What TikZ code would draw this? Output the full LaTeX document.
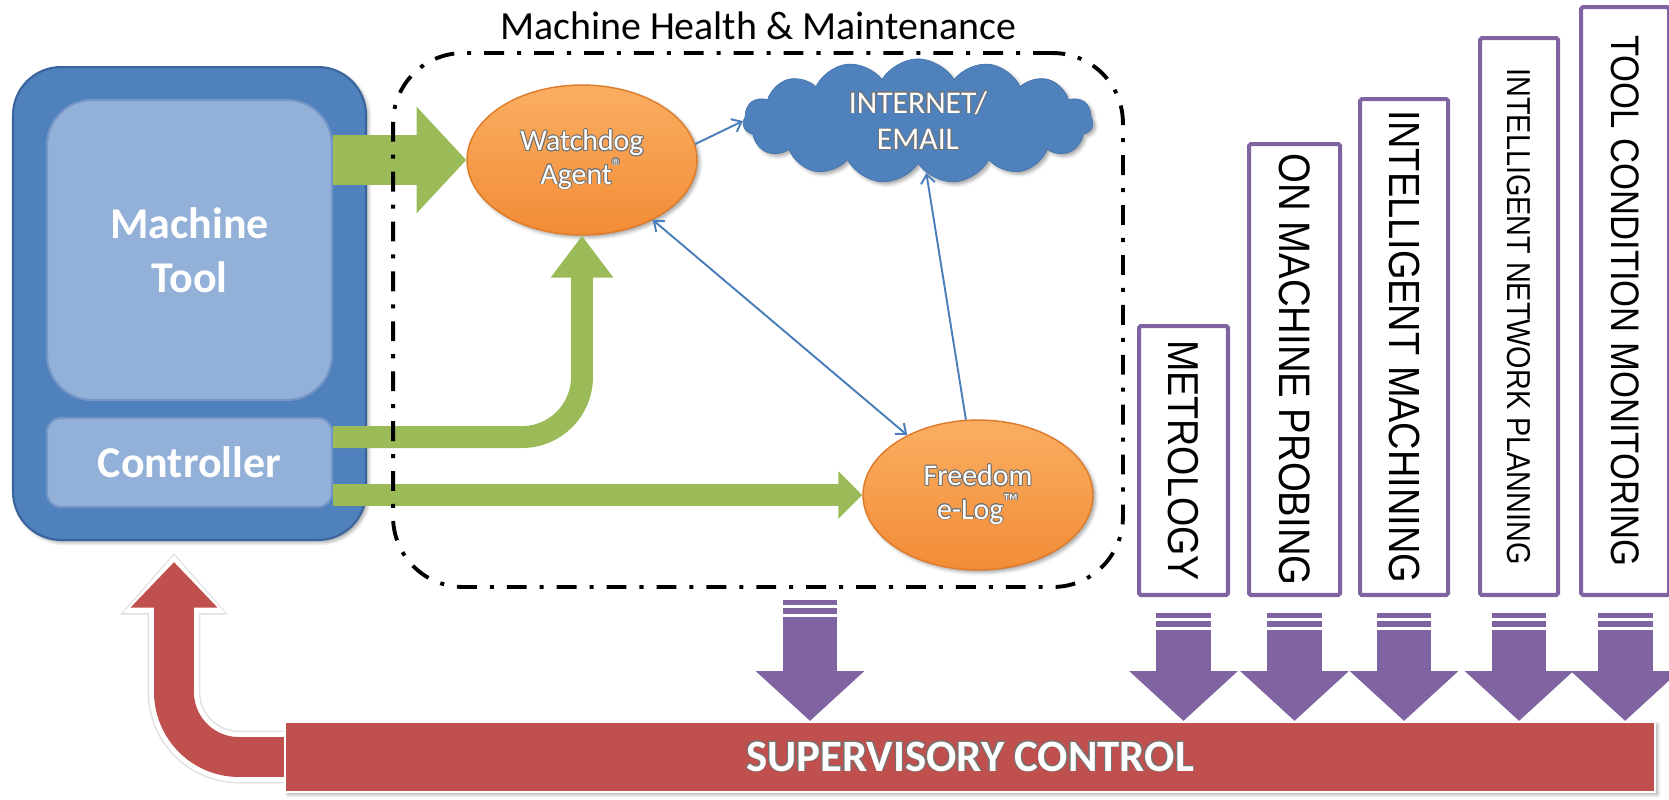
\documentclass[tikz,border=0pt]{standalone}
\usepackage{fontspec}
\usepackage{graphicx}
\usepackage{contour}
\setmainfont{Carlito}
\newfontfamily\modulefont{Liberation Sans}
\usetikzlibrary{arrows.meta,positioning,shapes.geometric,shapes.symbols,shadows.blur,backgrounds}
\definecolor{toolblue}{HTML}{4F81BD}
\definecolor{tooledge}{HTML}{3A659C}
\definecolor{panelblue}{HTML}{93B1D8}
\definecolor{paneledge}{HTML}{7596C6}
\definecolor{agentorange}{HTML}{F28C36}
\definecolor{agentlight}{HTML}{FAAE62}
\definecolor{agentedge}{HTML}{DE7A28}
\definecolor{feedgreen}{HTML}{9BBB59}
\definecolor{modpurple}{HTML}{8064A2}
\definecolor{ctrlred}{HTML}{C0504D}
\definecolor{linkblue}{HTML}{4A7EBB}
\contourlength{0.5pt}
\newcommand{\glow}[1]{\contour{black!55}{#1}}
\newcommand{\modlabel}[1]{\rotatebox{-90}{\scalebox{1}[1.15]{#1}}}
\tikzset{
  softshadow/.style={blur shadow={shadow xshift=1.5pt,shadow yshift=-1.5pt,shadow opacity=35}},
  machinebox/.style={draw=tooledge,line width=1.2pt,fill=toolblue,rounded corners=0.96cm,softshadow},
  panel/.style={draw=paneledge,line width=1.2pt,fill=panelblue,text=white,align=center,font=\fontsize{25}{31}\selectfont\bfseries},
  agent/.style={ellipse,draw=agentedge,line width=0.8pt,top color=agentlight,bottom color=agentorange,text=white,align=center,minimum width=4.6cm,minimum height=3cm,font=\fontsize{17}{19}\selectfont,softshadow},
  netcloud/.style={cloud,cloud puffs=15,cloud puff arc=120,cloud ignores aspect,fill=toolblue,draw=tooledge!50!toolblue,text=white,align=center,font=\fontsize{18}{21}\selectfont,softshadow},
  healthbox/.style={draw=black,line width=2.2pt,rounded corners=1.4cm,dash pattern=on 11.3pt off 7.4pt on 2.3pt off 7.4pt},
  module/.style={draw=modpurple,line width=2.3pt,fill=white,rounded corners=1pt,inner sep=0pt,anchor=south,font=\modulefont\fontsize{#1}{#1}\selectfont},
  ctrlbar/.style={draw=white,line width=1.2pt,fill=ctrlred,text=white,font=\fontsize{25.5}{30}\selectfont\bfseries,softshadow},
  greenflow/.style={draw=feedgreen},
  linkflow/.style={draw=linkblue,line width=1.1pt,>={Straight Barb[length=5pt,width=8pt]},->},
  purpleflow/.style={draw=modpurple,line width=31.2pt,-{Triangle[length=28.3pt,width=60pt]},dash pattern=on 2.8pt off 1.7pt on 3.4pt off 1.7pt on 400pt},
  redflow/.style={draw=ctrlred,line width=22.7pt,rounded corners=1.3cm,-{Triangle[length=26pt,width=48pt]}},
  redrim/.style={draw=white,line width=28.3pt,rounded corners=1.3cm,-{Triangle[length=33pt,width=56pt]}},
  redhalo/.style={draw=black!12,line width=30pt,rounded corners=1.3cm,-{Triangle[length=35pt,width=59pt]}}
}
\begin{document}
\begin{tikzpicture}[x=0.02cm,y=-0.02cm]
  \useasboundingbox (0,0) rectangle (1669,799);
  % machine with its controller
  \node[machinebox,minimum width=7.06cm,minimum height=9.46cm] (machine) at (189.5,303.5) {};
  \node[panel,rounded corners=0.9cm,minimum width=5.7cm,minimum height=6cm] (machtool) at (189.5,250) {Machine\\Tool};
  \node[panel,rounded corners=0.28cm,minimum width=5.7cm,minimum height=1.78cm] (controller) at (189.5,462.5) {Controller};
  % health and maintenance agents
  \node[agent] (watchdog) at (582,160) {\glow{Watchdog}\\\glow{Agent\textsuperscript{\textregistered}}};
  \node[agent] (freedom) at (978,495) {\glow{Freedom}\\\glow{e-Log\textsuperscript{\texttrademark}}};
  \node[netcloud,minimum width=7cm,minimum height=1.96cm] (internet) at (918,121) {\glow{INTERNET/}\\\glow{EMAIL}};
  \draw[greenflow,line width=28.3pt,-{Triangle[length=28.3pt,width=59pt]}] (machtool.east |- watchdog.west) -- (watchdog.west);
  \draw[greenflow,line width=12.5pt,rounded corners=1.2cm,-{Triangle[length=23.8pt,width=34pt]}] ([yshift=0.51cm]controller.east) -| (watchdog.south);
  \draw[greenflow,line width=13pt,-{Triangle[length=13.6pt,width=26pt]}] (controller.east |- freedom.west) -- (freedom.west);
  \draw[linkflow] (watchdog.8) -- (internet.west);
  \draw[linkflow,<->] (watchdog) -- (freedom);
  \draw[linkflow] (freedom) -- (internet);
  \node[healthbox,minimum width=14.6cm,minimum height=10.68cm] (health) at (758,320) {};
  \node[font=\fontsize{22.7}{27}\selectfont,inner sep=0pt,above=0.22cm of health] (healthtitle) {Machine Health \& Maintenance};
  % supporting modules
  \node[module=21.4pt,minimum width=1.78cm,minimum height=5.38cm] (metrology) at (1183.5,597) {\modlabel{METROLOGY}};
  \node[module=21.8pt,minimum width=1.82cm,minimum height=9.02cm,right=0.34cm of metrology.south east,anchor=south west] (probing) {\modlabel{ON MACHINE PROBING}};
  \node[module=21.6pt,minimum width=1.76cm,minimum height=9.92cm,right=0.32cm of probing.south east,anchor=south west] (machining) {\modlabel{INTELLIGENT MACHINING}};
  \node[module=16.4pt,minimum width=1.56cm,minimum height=11.14cm,right=0.56cm of machining.south east,anchor=south west] (network) {\modlabel{INTELLIGENT NETWORK PLANNING}};
  \node[module=19.7pt,minimum width=1.76cm,minimum height=11.76cm,right=0.38cm of network.south east,anchor=south west] (monitoring) {\modlabel{TOOL CONDITION MONITORING}};
  \node[ctrlbar,minimum width=27.4cm,minimum height=1.4cm] (control) at (970,757) {\glow{SUPERVISORY CONTROL}};
  \draw[purpleflow] ([xshift=1.04cm,yshift=-0.22cm]health.south) -- ([xshift=1.04cm]health.south |- control.north);
  \foreach \m in {metrology,probing,machining,network,monitoring}
    \draw[purpleflow] ([yshift=-0.32cm]\m.south) -- (\m.south |- control.north);
  % feedback into the machine
  \coordinate (feedback) at (174,562);
  \begin{scope}[on background layer]
    \draw[redhalo] (control.west) -| ([yshift=0.18cm]feedback);
    \draw[redrim] (control.west) -| ([yshift=0.14cm]feedback);
    \draw[redflow] (control.west) -| (feedback);
  \end{scope}
\end{tikzpicture}
\end{document}
